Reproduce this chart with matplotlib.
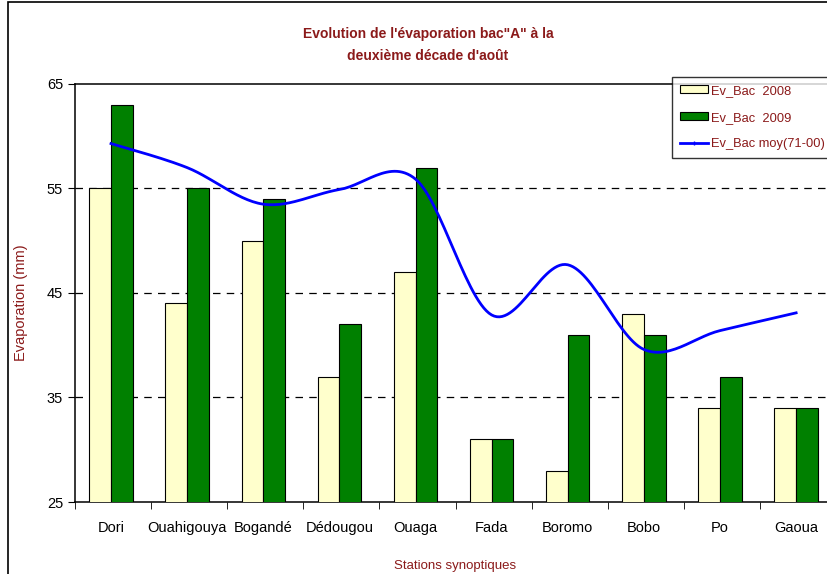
import numpy as np
import matplotlib.pyplot as plt
from matplotlib.patches import Rectangle

plt.rcParams['font.family'] = ['Liberation Sans', 'DejaVu Sans']

stations = ["Dori", "Ouahigouya", "Bogandé", "Dédougou", "Ouaga",
            "Fada", "Boromo", "Bobo", "Po", "Gaoua"]
bac_2008 = [55, 44, 50, 37, 47, 31, 28, 43, 34, 34]
bac_2009 = [63, 55, 54, 42, 57, 31, 41, 41, 37, 34]
bac_moy = [59.3, 57.0, 53.5, 54.9, 55.9, 42.9, 47.7, 39.6, 41.4, 43.1]

dark_red = "#8B1A1A"


def smooth(xs, ys, n=30):
    # excel-like smoothed line: cubic bezier with catmull-rom handles
    xs = np.asarray(xs, float)
    ys = np.asarray(ys, float)
    px = np.concatenate([[xs[0]], xs, [xs[-1]]])
    py = np.concatenate([[ys[0]], ys, [ys[-1]]])
    out_x, out_y = [], []
    t = np.linspace(0, 1, n)
    for i in range(1, len(px) - 2):
        p0 = np.array([px[i], py[i]])
        p3 = np.array([px[i + 1], py[i + 1]])
        c1 = p0 + (np.array([px[i + 1], py[i + 1]]) - np.array([px[i - 1], py[i - 1]])) / 6
        c2 = p3 - (np.array([px[i + 2], py[i + 2]]) - np.array([px[i], py[i]])) / 6
        b = ((1 - t) ** 3)[:, None] * p0 + (3 * (1 - t) ** 2 * t)[:, None] * c1 \
            + (3 * (1 - t) * t ** 2)[:, None] * c2 + (t ** 3)[:, None] * p3
        out_x.extend(b[:, 0])
        out_y.extend(b[:, 1])
    return out_x, out_y


fig = plt.figure(figsize=(8.27, 5.74), dpi=100)
ax = fig.add_axes([75 / 827, 1 - 502 / 574, 763 / 827, 418 / 574])

x = np.arange(len(stations))
w = 0.285
h08 = ax.bar(x - w / 2, bac_2008, w, color="#FFFFCC", edgecolor="black",
             linewidth=0.8, label="Ev_Bac  2008", zorder=3)
h09 = ax.bar(x + w / 2, bac_2009, w, color="#008000", edgecolor="black",
             linewidth=0.8, label="Ev_Bac  2009", zorder=3)
sx, sy = smooth(x, bac_moy)
ax.plot(sx, sy, color="#0000FF", lw=2, zorder=4)
hmoy, = ax.plot([], [], color="#0000FF", lw=2, marker="|", ms=3,
                label="Ev_Bac moy(71-00)")

ax.set_ylim(25, 65)
ax.set_xlim(-0.473, 9.55)
ax.set_yticks([25, 35, 45, 55, 65])
ax.set_xticks(x)
ax.set_xticklabels(stations, fontsize=10.5)
ax.set_xticks(np.arange(-0.5, len(stations)) + 0.027, minor=True)
ax.tick_params(axis="x", which="major", length=0, pad=14)
ax.tick_params(axis="x", which="minor", length=5, direction="out")
ax.tick_params(axis="y", length=5, direction="out", labelsize=10.5)
for v in [35, 45, 55]:
    ax.axhline(v, color="black", lw=0.9, ls=(0, (6, 5)), zorder=1)
for s in ax.spines.values():
    s.set_linewidth(1.1)

ax.set_ylabel("Evaporation (mm)", color=dark_red, fontsize=10.5)
ax.yaxis.set_label_coords(-47 / 763, (502 - 303) / 418)
fig.text(455 / 827, 1 - 566 / 574, "Stations synoptiques", color=dark_red,
         fontsize=9.5, ha="center", va="center")
fig.text(428 / 827, 1 - 45 / 574,
         "Evolution de l'évaporation bac\"A\" à la\ndeuxième décade d'août",
         color=dark_red, fontsize=10, fontweight="bold", ha="center",
         va="center", linespacing=1.65)

leg = ax.legend(handles=[h08, h09, hmoy], loc="upper left",
                bbox_to_anchor=(672 / 827, 1 - 77 / 574),
                bbox_transform=fig.transFigure, frameon=True, fancybox=False,
                edgecolor="black", fontsize=9.3, borderpad=0.6,
                labelspacing=1.15, handlelength=2.2, handleheight=0.6,
                handletextpad=0.25, borderaxespad=0)
leg.get_frame().set_linewidth(1)
for t in leg.get_texts():
    t.set_color(dark_red)

fig.patches.append(Rectangle((8 / 827, -0.1), 1.2, 1 - 2 / 574 + 0.1,
                             transform=fig.transFigure, fill=False,
                             edgecolor="black", lw=1.2))

fig.savefig("out.png", dpi=100)
